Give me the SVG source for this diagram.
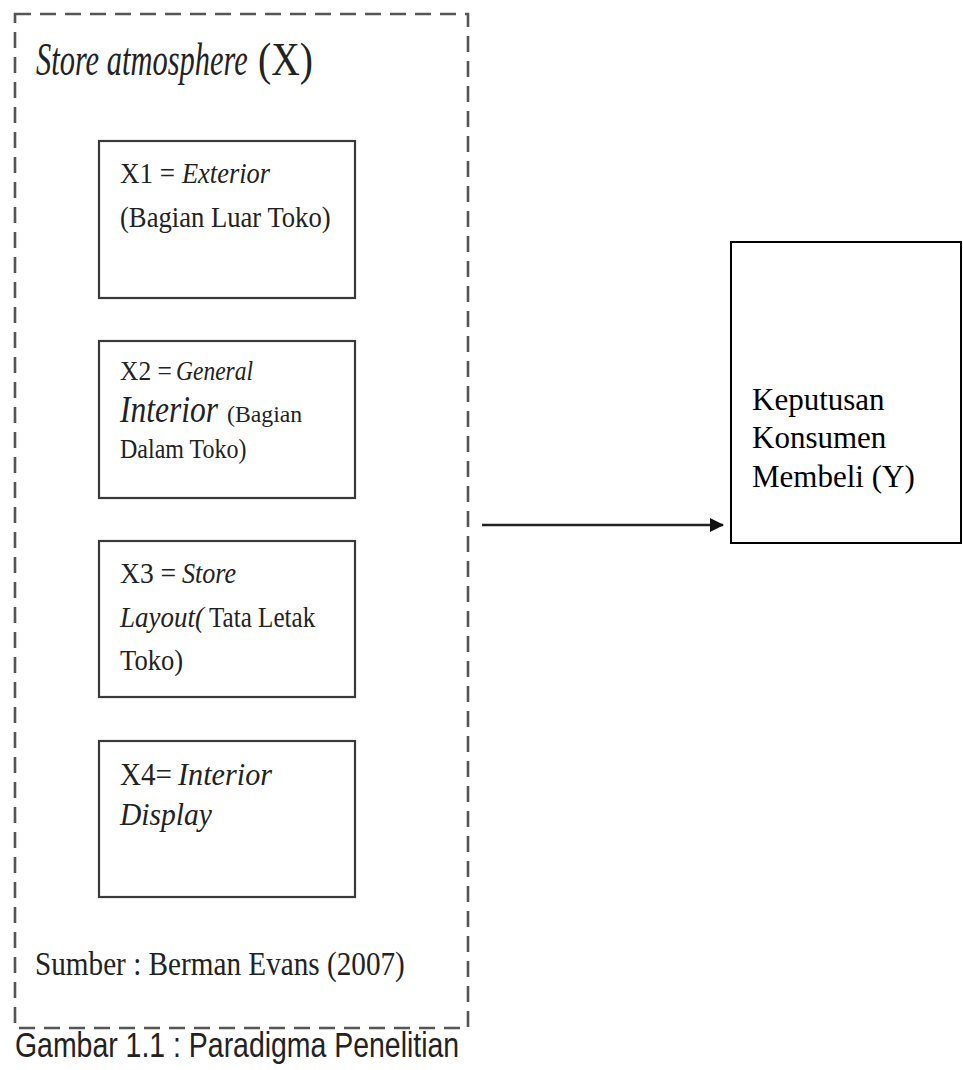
<svg xmlns="http://www.w3.org/2000/svg" width="963" height="1070" viewBox="0 0 963 1070">
<style>
.t{font-family:"Liberation Serif","Times New Roman",serif;fill:#222}
.i{font-style:italic}
.box{fill:none;stroke:#3a3a3a;stroke-width:2.2}
.frame{fill:none;stroke:#555;stroke-width:2.6;stroke-dasharray:16 9}
</style>
<defs>
<marker id="ah" markerWidth="14" markerHeight="14" refX="13" refY="7" orient="auto" markerUnits="userSpaceOnUse">
<path d="M0,0 L14,7 L0,14 Z" fill="#111"/>
</marker>
</defs>
<rect width="963" height="1070" fill="#fff"/>
<g id="store-atmosphere">
<rect class="frame" x="15" y="14" width="453" height="1014"/>
<text class="t i" transform="translate(36,75) scale(0.662,1)" font-size="46">Store atmosphere</text>
<text class="t" transform="translate(258,75) scale(0.86,1)" font-size="46">(X)</text>
<text class="t" transform="translate(35,975) scale(0.885,1)" font-size="33">Sumber : Berman Evans (2007)</text>
</g>
<g id="x1">
<rect class="box" x="99" y="141" width="256" height="157"/>
<text class="t" transform="translate(120,183) scale(0.9,1)" font-size="30">X1 =</text>
<text class="t i" transform="translate(182,183) scale(0.88,1)" font-size="30">Exterior</text>
<text class="t" transform="translate(120,227) scale(0.888,1)" font-size="30">(Bagian Luar Toko)</text>
</g>
<g id="x2">
<rect class="box" x="99" y="341" width="256" height="157"/>
<text class="t" transform="translate(120,380) scale(0.91,1)" font-size="28">X2 =</text>
<text class="t i" transform="translate(176,380) scale(0.84,1)" font-size="28">General</text>
<text class="t i" transform="translate(120,422) scale(0.852,1)" font-size="37">Interior</text>
<text class="t" transform="translate(227,422) scale(0.99,1)" font-size="24">(Bagian</text>
<text class="t" transform="translate(120,458) scale(0.89,1)" font-size="27">Dalam Toko)</text>
</g>
<g id="x3">
<rect class="box" x="99" y="541" width="256" height="156"/>
<text class="t" transform="translate(120,583) scale(0.92,1)" font-size="30">X3 =</text>
<text class="t i" transform="translate(182,583) scale(0.87,1)" font-size="30">Store</text>
<text class="t i" transform="translate(120,627) scale(0.9,1)" font-size="30">Layout(</text>
<text class="t" transform="translate(209,627) scale(0.837,1)" font-size="30">Tata Letak</text>
<text class="t" transform="translate(120,670) scale(0.887,1)" font-size="30">Toko)</text>
</g>
<g id="x4">
<rect class="box" x="99" y="741" width="256" height="156"/>
<text class="t" transform="translate(120,785) scale(0.94,1)" font-size="31">X4=</text>
<text class="t i" transform="translate(178,785) scale(0.975,1)" font-size="31">Interior</text>
<text class="t i" transform="translate(120,825) scale(0.954,1)" font-size="31">Display</text>
</g>
<g id="y">
<rect x="731" y="242" width="230" height="301" fill="none" stroke="#000" stroke-width="2"/>
<text class="t" x="752" y="410" font-size="31" style="fill:#000">Keputusan</text>
<text class="t" x="752" y="448" font-size="31" style="fill:#000">Konsumen</text>
<text class="t" x="752" y="487" font-size="31" style="fill:#000">Membeli (Y)</text>
</g>
<g id="connectors">
<line x1="482" y1="525" x2="723" y2="525" stroke="#222" stroke-width="2.5" marker-end="url(#ah)"/>
</g>
<text transform="translate(15,1057) scale(0.79,1)" font-family="'Liberation Sans',Arial,sans-serif" font-size="36" fill="#222">Gambar 1.1 : Paradigma Penelitian</text>
</svg>
